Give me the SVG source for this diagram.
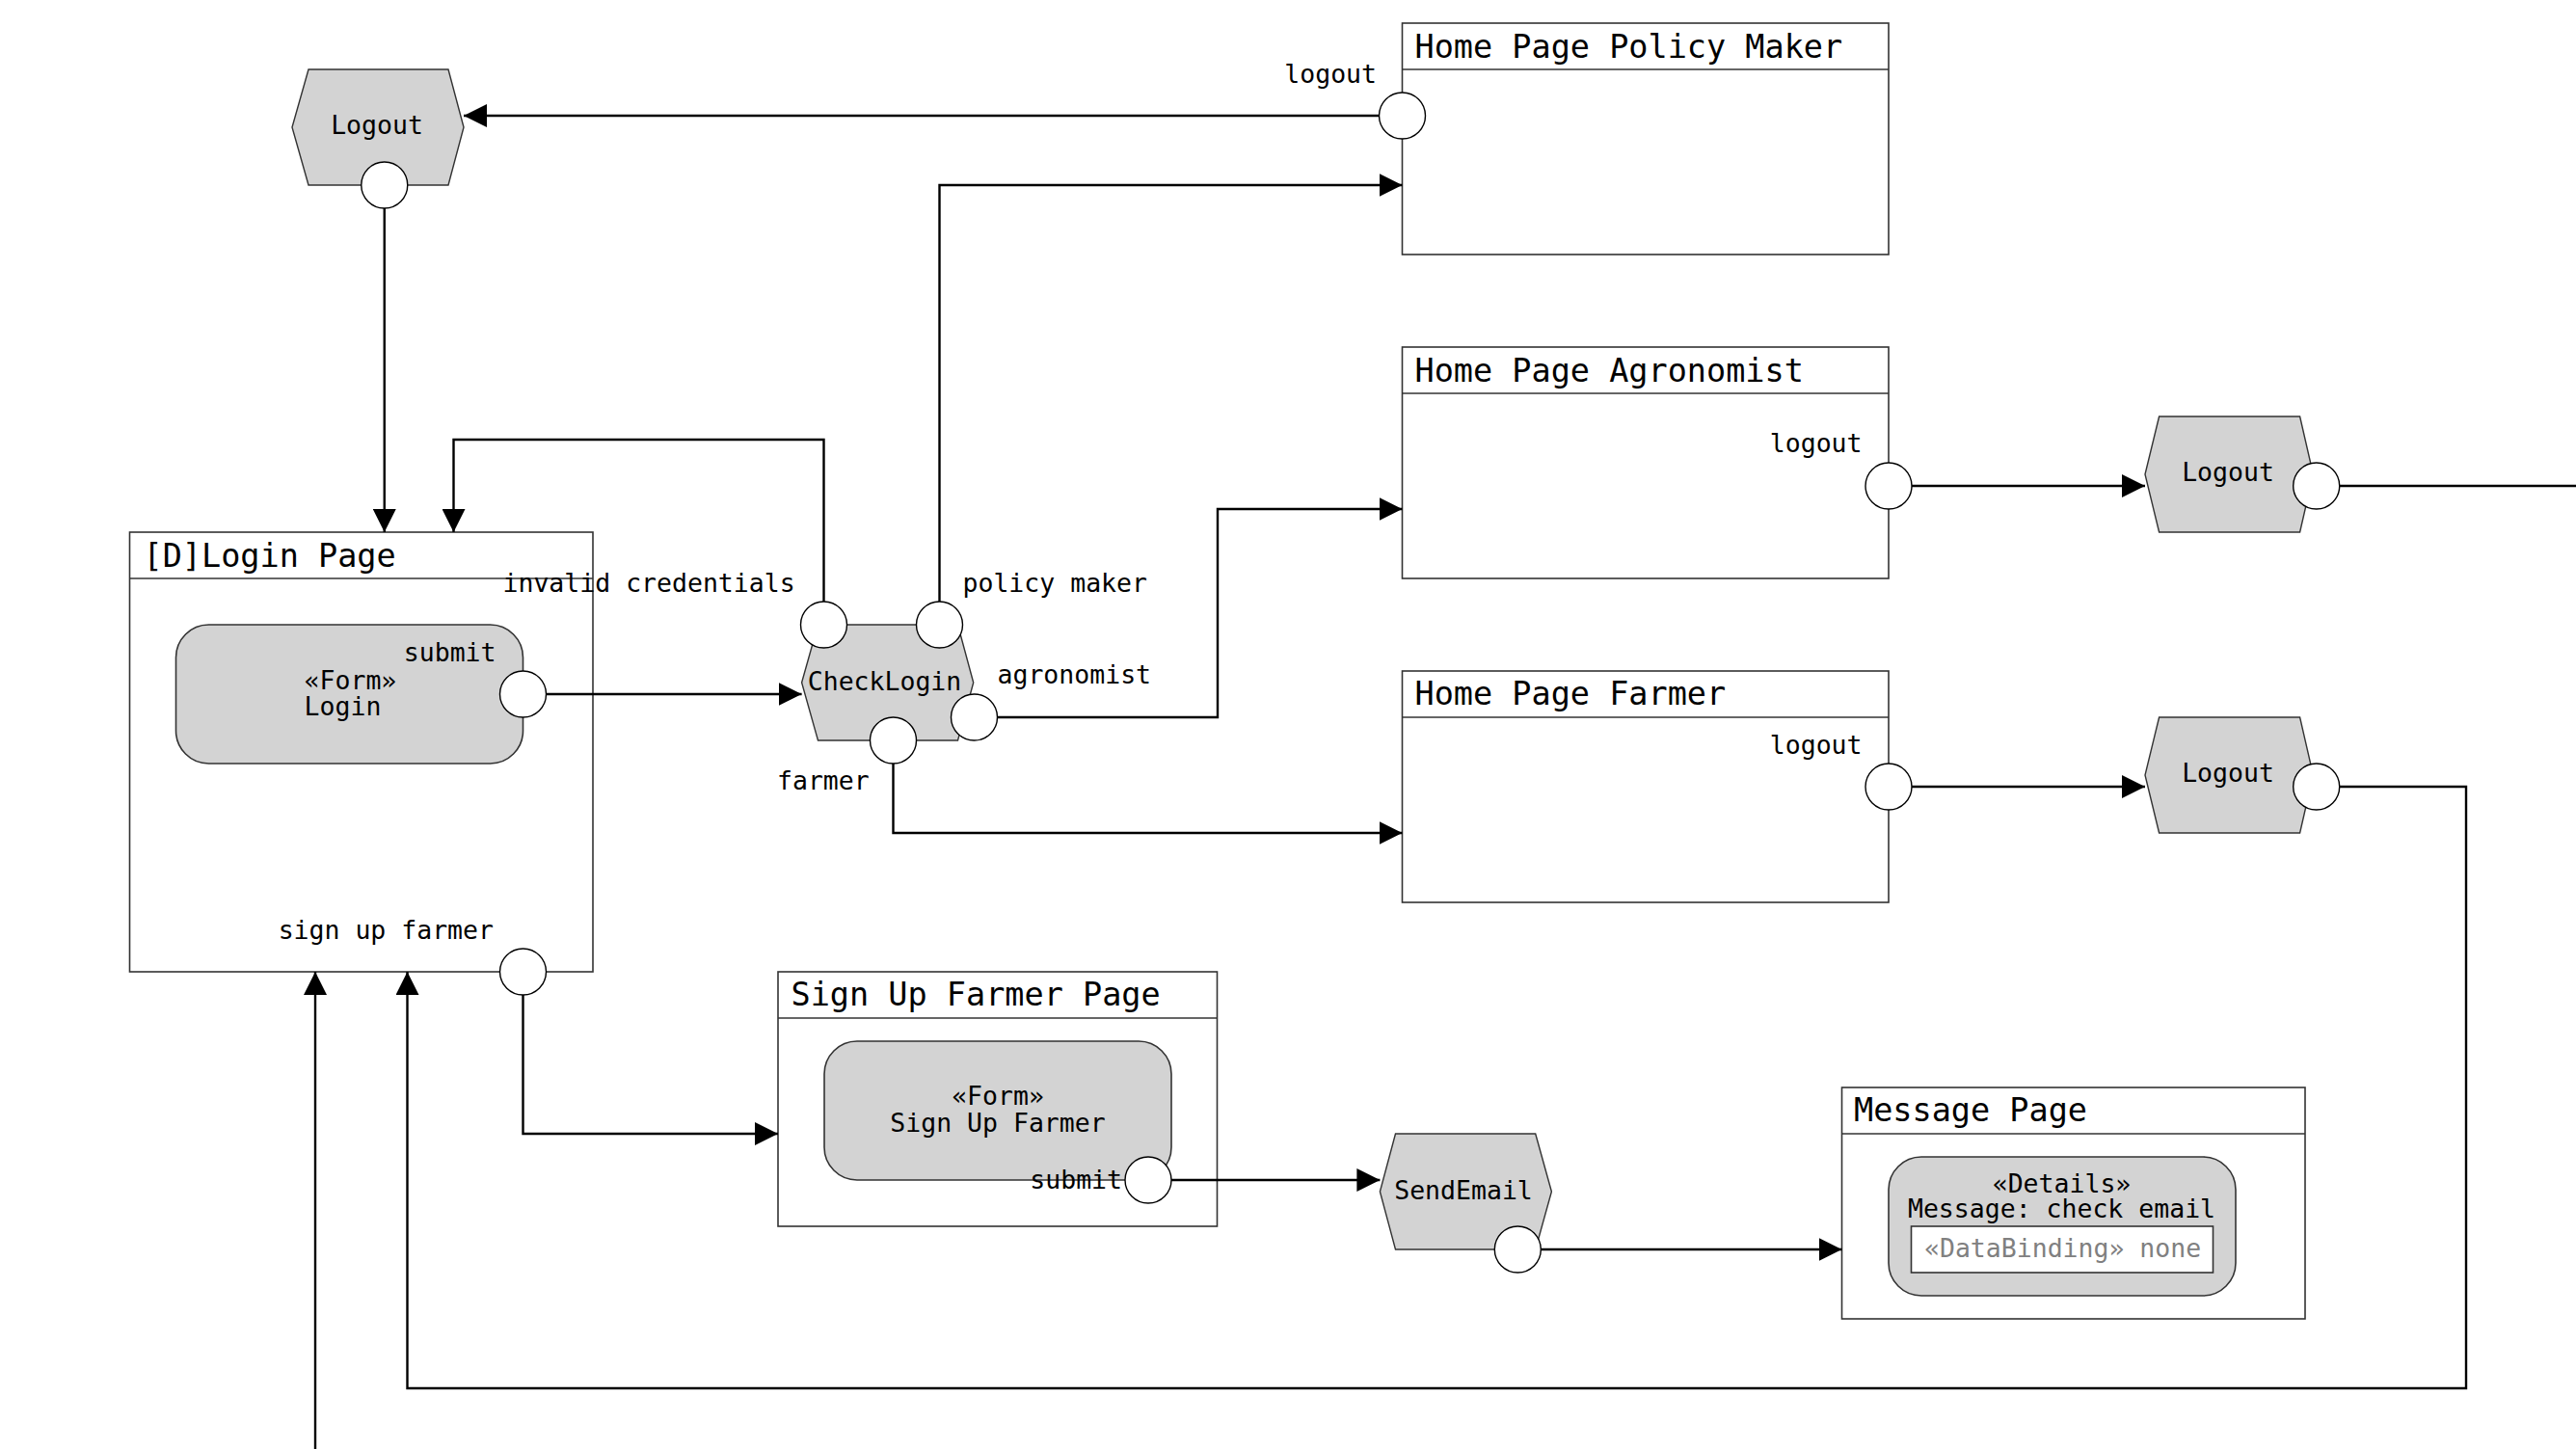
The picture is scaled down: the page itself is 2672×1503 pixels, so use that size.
<svg xmlns="http://www.w3.org/2000/svg" width="2672" height="1503" viewBox="0 0 2672 1503">
<style>
text{font-family:"DejaVu Sans Mono","Liberation Mono",monospace;fill:#000}
.lbl{font-size:26.5px}
.ttl{font-size:33.5px}
.page{fill:#fff;stroke:#333;stroke-width:1.6}
.hdr{stroke:#333;stroke-width:1.6}
.inner{fill:#d3d3d3;stroke:#333;stroke-width:1.6}
.hex{fill:#d3d3d3;stroke:#333;stroke-width:1.4}
.pin{fill:#fff;stroke:#000;stroke-width:1.4}
.edge{fill:none;stroke:#000;stroke-width:2.4}
.bind{fill:#fff;stroke:#333;stroke-width:1.6}
.gray{fill:#808080}
</style>
<defs>
<marker id="arr" markerUnits="userSpaceOnUse" markerWidth="24" markerHeight="24" refX="24" refY="12" orient="auto"><path d="M0,0 L24,12 L0,24 z" fill="#000"/></marker>
</defs>
<rect width="2672" height="1503" fill="#fff"/>

<g id="login-page">
<rect class="page" x="134.5" y="552" width="480.5" height="456"/>
<line class="hdr" x1="134.5" y1="600" x2="615" y2="600"/>
<text class="ttl" x="148.5" y="587.5">[D]Login Page</text>
<rect class="inner" x="182.5" y="648" width="360" height="144" rx="34" ry="34"/>
<text class="lbl" x="315.6" y="715">«Form»</text>
<text class="lbl" x="315.6" y="742">Login</text>
<text class="lbl" x="514.5" y="685.6" text-anchor="end">submit</text>
<circle class="pin" cx="542.5" cy="720" r="24"/>
<text class="lbl" x="512" y="973.5" text-anchor="end">sign up farmer</text>
<circle class="pin" cx="542.5" cy="1008" r="24"/>
</g>

<g id="logout-1">
<polygon class="hex" points="320,72 465,72 481,132 465,192 320,192 303,132"/>
<text class="lbl" x="391" y="139" text-anchor="middle">Logout</text>
<circle class="pin" cx="398.75" cy="192" r="24"/>
</g>

<g id="home-policy">
<rect class="page" x="1454.5" y="24" width="504.5" height="240"/>
<line class="hdr" x1="1454.5" y1="72" x2="1959" y2="72"/>
<text class="ttl" x="1467.5" y="59.5">Home Page Policy Maker</text>
<text class="lbl" x="1428" y="85.5" text-anchor="end">logout</text>
<circle class="pin" cx="1454.5" cy="120" r="24"/>
</g>

<g id="home-agronomist">
<rect class="page" x="1454.5" y="360" width="504.5" height="240"/>
<line class="hdr" x1="1454.5" y1="408" x2="1959" y2="408"/>
<text class="ttl" x="1467.5" y="395.5">Home Page Agronomist</text>
<text class="lbl" x="1931.5" y="469" text-anchor="end">logout</text>
<circle class="pin" cx="1959" cy="504" r="24"/>
</g>

<g id="home-farmer">
<rect class="page" x="1454.5" y="696" width="504.5" height="240"/>
<line class="hdr" x1="1454.5" y1="744" x2="1959" y2="744"/>
<text class="ttl" x="1467.5" y="731">Home Page Farmer</text>
<text class="lbl" x="1931.5" y="781.5" text-anchor="end">logout</text>
<circle class="pin" cx="1959" cy="816" r="24"/>
</g>

<g id="checklogin">
<polygon class="hex" points="848.5,648 993.5,648 1009.7,708 993.5,768 848.5,768 831.6,708"/>
<text class="lbl" x="917.5" y="715.5" text-anchor="middle">CheckLogin</text>
<text class="lbl" x="521.5" y="613.5">invalid credentials</text>
<text class="lbl" x="998.5" y="613.5">policy maker</text>
<text class="lbl" x="1034.5" y="708.5">agronomist</text>
<text class="lbl" x="806" y="818.5">farmer</text>
<circle class="pin" cx="854.5" cy="648" r="24"/>
<circle class="pin" cx="974.5" cy="648" r="24"/>
<circle class="pin" cx="1010.5" cy="744" r="24"/>
<circle class="pin" cx="926.5" cy="768" r="24"/>
</g>

<g id="logout-2">
<polygon class="hex" points="2239.6,432 2385.6,432 2399.4,492 2385.6,552 2239.6,552 2225,492"/>
<text class="lbl" x="2311" y="499" text-anchor="middle">Logout</text>
<circle class="pin" cx="2402.7" cy="504" r="24"/>
</g>

<g id="logout-3">
<polygon class="hex" points="2239.6,744 2385.6,744 2399.4,804 2385.6,864 2239.6,864 2225,804"/>
<text class="lbl" x="2311" y="811" text-anchor="middle">Logout</text>
<circle class="pin" cx="2402.7" cy="816" r="24"/>
</g>

<g id="signup-page">
<rect class="page" x="807" y="1008" width="455.5" height="264"/>
<line class="hdr" x1="807" y1="1056" x2="1262.5" y2="1056"/>
<text class="ttl" x="820.5" y="1042.5">Sign Up Farmer Page</text>
<rect class="inner" x="855" y="1080" width="360" height="144" rx="34" ry="34"/>
<text class="lbl" x="1035" y="1146" text-anchor="middle">«Form»</text>
<text class="lbl" x="1035" y="1173.5" text-anchor="middle">Sign Up Farmer</text>
<text class="lbl" x="1164" y="1232.5" text-anchor="end">submit</text>
<circle class="pin" cx="1191" cy="1224" r="24"/>
</g>

<g id="sendemail">
<polygon class="hex" points="1447.5,1176 1592.7,1176 1609.4,1236 1592.7,1296 1447.5,1296 1431.4,1236"/>
<text class="lbl" x="1518" y="1243.5" text-anchor="middle">SendEmail</text>
<circle class="pin" cx="1574.3" cy="1296" r="24"/>
</g>

<g id="message-page">
<rect class="page" x="1910.5" y="1128" width="480.5" height="240"/>
<line class="hdr" x1="1910.5" y1="1176" x2="2391" y2="1176"/>
<text class="ttl" x="1923" y="1163">Message Page</text>
<rect class="inner" x="1959" y="1200" width="360" height="144" rx="34" ry="34"/>
<text class="lbl" x="2138.5" y="1237" text-anchor="middle">«Details»</text>
<text class="lbl" x="2138.5" y="1263" text-anchor="middle">Message: check email</text>
<rect class="bind" x="1982.5" y="1272" width="313" height="48"/>
<text class="lbl gray" x="1996" y="1304">«DataBinding» none</text>
</g>

<g id="connectors">
<path class="edge" d="M1430.5,120 H481" marker-end="url(#arr)"/>
<path class="edge" d="M398.75,216 V552" marker-end="url(#arr)"/>
<path class="edge" d="M854.5,624 V456 H470.5 V552" marker-end="url(#arr)"/>
<path class="edge" d="M974.5,624 V192 H1454.5" marker-end="url(#arr)"/>
<path class="edge" d="M566.5,720 H831.6" marker-end="url(#arr)"/>
<path class="edge" d="M1034.5,744 H1263 V528 H1454.5" marker-end="url(#arr)"/>
<path class="edge" d="M926.5,792 V864 H1454.5" marker-end="url(#arr)"/>
<path class="edge" d="M1983,504 H2225" marker-end="url(#arr)"/>
<path class="edge" d="M2426.7,504 H2672"/>
<path class="edge" d="M1983,816 H2225" marker-end="url(#arr)"/>
<path class="edge" d="M2426.7,816 H2558 V1440 H422.5 V1008" marker-end="url(#arr)"/>
<path class="edge" d="M327,1503 V1008" marker-end="url(#arr)"/>
<path class="edge" d="M542.5,1032 V1176 H807" marker-end="url(#arr)"/>
<path class="edge" d="M1215,1224 H1431.4" marker-end="url(#arr)"/>
<path class="edge" d="M1598.3,1296 H1910.5" marker-end="url(#arr)"/>
</g>
</svg>
